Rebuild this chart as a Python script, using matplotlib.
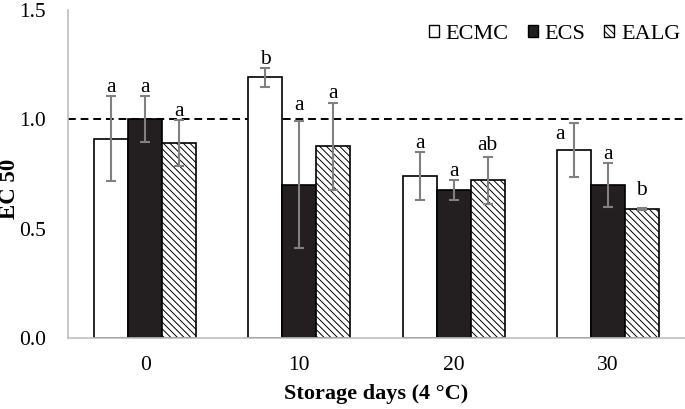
import matplotlib
matplotlib.use("Agg")
import matplotlib.pyplot as plt
from matplotlib.patches import Patch
import numpy as np

plt.rcParams['font.family'] = ['Liberation Serif', 'DejaVu Serif']
plt.rcParams['hatch.linewidth'] = 0.7

days = ["0", "10", "20", "30"]
series = ["ECMC", "ECS", "EALG"]
ecmc = [0.91, 1.19, 0.74, 0.86]
ecs = [1.00, 0.70, 0.675, 0.70]
ealg = [0.89, 0.875, 0.72, 0.59]
ecmc_err = [0.195, 0.042, 0.11, 0.123]
ecs_err = [0.105, 0.29, 0.045, 0.10]
ealg_err = [0.105, 0.20, 0.107, 0.005]
ecmc_lbl = ["a", "b", "a", "a"]
ecs_lbl = ["a", "a", "a", "a"]
ealg_lbl = ["a", "a", "ab", "b"]
reference_level = 1.0

fig = plt.figure(figsize=(6.85, 4.09), dpi=100)
ax = fig.add_axes([68/685, 71/409, 617/685, 328.5/409])

x = np.arange(len(days))
w = 0.22
styles = [
    dict(color="white", edgecolor="black", hatch=None),
    dict(color="#231f20", edgecolor="black", hatch=None),
    dict(color="white", edgecolor="black", hatch="\\\\\\\\\\"),
]
vals = [ecmc, ecs, ealg]
errs = [ecmc_err, ecs_err, ealg_err]
lbls = [ecmc_lbl, ecs_lbl, ealg_lbl]

# label offsets (points) for specific letters
label_shift = {(0, 3): (-10, -12), (1, 1): (0, 8), (2, 2): (0, 5), (2, 3): (0, 9)}

ax.axhline(reference_level, color="black", linestyle=(0, (4, 2.5)), linewidth=1.4, zorder=1)

for i, (v, e, lb, st) in enumerate(zip(vals, errs, lbls, styles)):
    pos = x + (i - 1) * w
    ax.bar(pos, v, width=w, color=st["color"], edgecolor=st["edgecolor"],
           hatch=st["hatch"], linewidth=1.2, zorder=2)
    ax.errorbar(pos, v, yerr=e, fmt="none", ecolor="#808080", elinewidth=1.5,
                capsize=3.3, capthick=1.5, zorder=3)
    for j, (p, vv, ee, t) in enumerate(zip(pos, v, e, lb)):
        dx, dy = label_shift.get((i, j), (0, 3))
        ax.annotate(t, (p, vv + ee), xytext=(dx, dy), textcoords="offset points",
                    ha="center", va="baseline", fontsize=15.5, zorder=4)

ax.set_xlim(-0.5, 3.5)
ax.set_ylim(0, 1.5)
ax.set_yticks([0, 0.5, 1.0, 1.5])
ax.set_yticklabels(["0.0", "0.5", "1.0", "1.5"])
ax.set_xticks(x)
ax.set_xticklabels(days)
ax.tick_params(axis="both", length=0, labelsize=15.5)
ax.tick_params(axis="y", pad=16)
ax.tick_params(axis="x", pad=13)
for s in ["top", "right"]:
    ax.spines[s].set_visible(False)
for s in ["left", "bottom"]:
    ax.spines[s].set_color("#bfbfbf")
    ax.spines[s].set_linewidth(1.2)

ax.set_xlabel("Storage days (4 °C)", fontsize=16, fontweight="bold")
ax.xaxis.set_label_coords(0.5, -0.14)
ax.set_ylabel("EC 50", fontsize=16.5, fontweight="bold")
ax.yaxis.set_label_coords(-0.077, 0.455)

handles = [Patch(facecolor=st["color"], edgecolor="black", hatch=st["hatch"], linewidth=1.0)
           for st in styles]
leg = ax.legend(handles, series, loc="upper right", bbox_to_anchor=(1.012, 0.99),
                ncol=3, frameon=False, fontsize=16, handlelength=0.45, handleheight=0.45,
                handletextpad=0.3, columnspacing=0.85, borderaxespad=0.15)

fig.savefig("out.png", dpi=100)
